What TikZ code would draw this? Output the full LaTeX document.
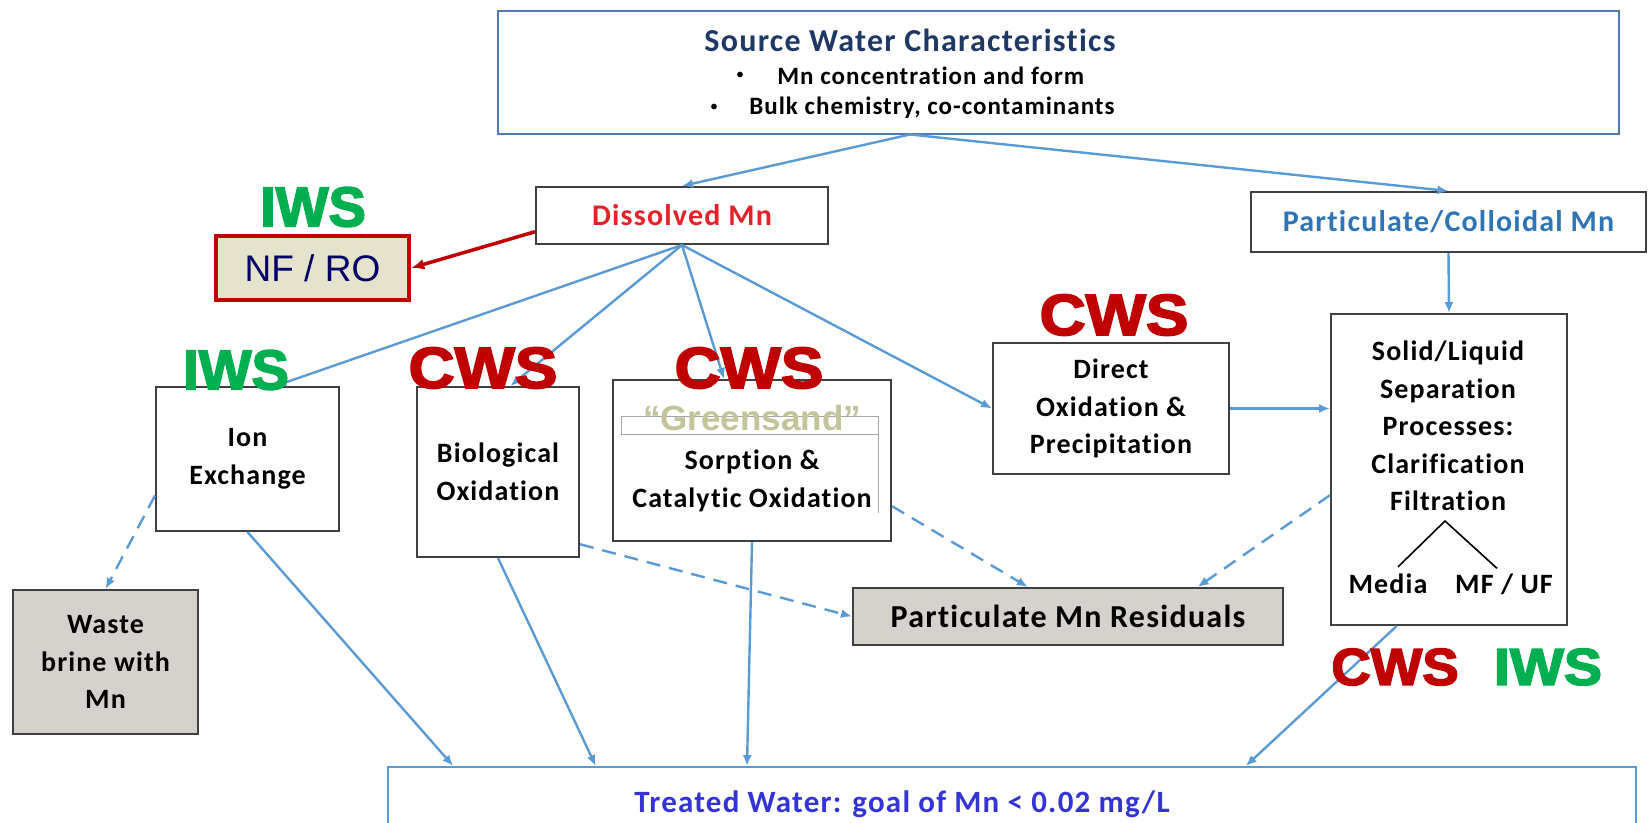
\documentclass[tikz,border=0pt]{standalone}
\usepackage{fontspec}
\setmainfont{Carlito}[LetterSpace=4, Ligatures=NoCommon]
\newfontfamily\tagfont{Liberation Sans}[BoldFeatures={FakeBold=3}]
\newfontfamily\arialfont{Liberation Sans}
\usetikzlibrary{positioning,arrows.meta,calc}

\definecolor{flowblue}{HTML}{5B9BD5}
\definecolor{srcblue}{HTML}{5079B5}
\definecolor{boxgray}{HTML}{404040}
\definecolor{titlenavy}{HTML}{1F3864}
\definecolor{dissred}{HTML}{E8202A}
\definecolor{partblue}{HTML}{2E75B6}
\definecolor{treatblue}{HTML}{3434D6}
\definecolor{cwsred}{HTML}{C00000}
\definecolor{iwsgreen}{HTML}{00B050}
\definecolor{sandkhaki}{HTML}{C4C49A}
\definecolor{nfrofill}{HTML}{E5E3CB}
\definecolor{nfronavy}{HTML}{000066}
\definecolor{residgray}{HTML}{D5D1CC}

\newcommand\bodyfont{\fontsize{28}{37.5}\selectfont\bfseries}
\newcommand\titlefont{\fontsize{32}{36}\selectfont\bfseries}

\begin{document}
\begin{tikzpicture}[x=1pt,y=-1pt,
  procbox/.style={draw=boxgray, line width=2pt, fill=white, inner sep=0pt, align=center, font=\bodyfont},
  residbox/.style={procbox, fill=residgray},
  bluebox/.style={draw=srcblue, line width=2pt, fill=white, inner sep=0pt},
  bodytext/.style={font=\bodyfont, align=center, inner sep=0pt},
  cwstag/.style={font=\tagfont\bfseries\fontsize{58}{58}\selectfont, text=cwsred, inner sep=0pt},
  iwstag/.style={cwstag, font=\tagfont\bfseries\fontsize{56}{56}\selectfont, text=iwsgreen},
  smalltag/.style={font=\tagfont\bfseries\fontsize{52}{52}\selectfont},
  flow/.style={draw=flowblue, line width=2.4pt, -{Latex[length=11pt,width=9pt]}},
  residflow/.style={flow, dash pattern=on 14pt off 9pt},
]
\useasboundingbox (0,0) rectangle (1648,822);
\clip (0,0) rectangle (1648,822);

% source water
\node (source) at (1058.5,72) [bluebox, minimum width=1121pt, minimum height=123pt] {};
\node (srctitle) at (910,40) [font=\titlefont, text=titlenavy, inner sep=0pt] {Source Water Characteristics};
\node (bul1) at (740,76) [bodytext, font=\fontsize{16}{16}\selectfont] {\textbullet};
\node (chr1) [bodytext, font=\fontsize{25}{30}\selectfont\bfseries, right=33pt of bul1] {Mn concentration and form};
\node (bul2) at (714,108) [bodytext, font=\fontsize{16}{16}\selectfont] {\textbullet};
\node (chr2) [bodytext, font=\fontsize{25}{30}\selectfont\bfseries, right=31pt of bul2] {Bulk chemistry, co-contaminants};

% forms of Mn
\node (dissolved) at (682,215.5) [procbox, minimum width=292pt, minimum height=57pt, text=dissred, font=\fontsize{30}{36}\selectfont\bfseries] {Dissolved Mn};
\node (partcol) at (1448.5,222) [procbox, minimum width=395pt, minimum height=60pt, text=partblue, font=\fontsize{30}{36}\selectfont\bfseries] {Particulate/Colloidal Mn};
\node (nfro) at (312.5,268) [draw=cwsred, line width=4.5pt, fill=nfrofill, minimum width=193pt, minimum height=64pt,
  font=\arialfont\fontsize{37}{37}\selectfont, text=nfronavy] {NF / RO};

% treatment processes
\node (ionex) at (247.5,459) [procbox, minimum width=183pt, minimum height=144pt] {Ion\\Exchange};
\node (bioox) at (498,472) [procbox, minimum width=162pt, minimum height=170pt] {Biological\\Oxidation};
\node (sorption) at (752,460.5) [procbox, minimum width=278pt, minimum height=161pt] {};
\draw [gray!70, line width=0.8pt] (621,416) rectangle (878,434) (878,434) -- (878,513);
\node (greensand) at (752,418) [font=\arialfont\bfseries\fontsize{35}{35}\selectfont, text=sandkhaki, inner sep=0pt] {“Greensand”};
\node (sorptxt) at (752,481) [bodytext] {Sorption \&\\Catalytic Oxidation};
\node (direct) at (1111,408.5) [procbox, minimum width=236pt, minimum height=131pt] {Direct\\Oxidation \&\\Precipitation};
\node (solid) at (1449,469.5) [procbox, minimum width=236pt, minimum height=311pt] {};
\node (solidtxt) at (1448,426) [bodytext] {Solid/Liquid\\Separation\\Processes:\\Clarification\\Filtration};
\node (media) at (1388,584) [bodytext] {Media};
\node (mfuf) at (1504,584) [bodytext] {MF / UF};
\coordinate (fork) at (1445,521);
\draw [black, line width=1.6pt] (media.north) ++(10,-7) -- (fork) -- ($(mfuf.north)+(-7,-5)$);

% outputs
\node (waste) at (105.5,662) [residbox, minimum width=185pt, minimum height=144pt] {Waste\\brine with\\Mn};
\node (resid) at (1068,616.5) [residbox, minimum width=430pt, minimum height=57pt, font=\fontsize{32}{36}\selectfont\bfseries] {Particulate Mn Residuals};
\node (treated) at (1012,822) [draw=flowblue, line width=2pt, minimum width=1248pt, minimum height=110pt] {};
\node (treattxt) at (902,804) [bodytext, font=\fontsize{31}{36}\selectfont\bfseries, text=treatblue] {Treated Water: goal of Mn < 0.02 mg/L};

% arrows
\draw [flow] (srctitle |- source.south) -- (dissolved.north);
\draw [flow] (srctitle |- source.south) -- (partcol.north);
\draw [flow] (partcol.south) -- (solid.north);
\draw [draw=cwsred, line width=3.5pt, -{Latex[length=13pt,width=11pt]}] ($(dissolved.west)!0.55!(dissolved.south west)$) -- (nfro.east);
\draw [flow] (dissolved.south) -- ($(ionex.north)!0.3!(ionex.north east)$);
\draw [flow] (dissolved.south) -- ($(bioox.north)!0.15!(bioox.north east)$);
\draw [flow] (dissolved.south) -- ($(sorption.north)!0.2!(sorption.north west)$);
\draw [flow] (dissolved.south) -- (direct.west);
\draw [flow] (direct.east) -- (direct.east -| solid.west);
\draw [flow] (ionex.south) -- ($(treated.north west)!0.053!(treated.north east)$);
\draw [flow] (bioox.south) -- ($(treated.north west)!0.167!(treated.north east)$);
\draw [flow] (sorption.south) -- ($(treated.north west)!0.288!(treated.north east)$);
\draw [flow] ($(solid.south west)!0.28!(solid.south east)$) -- ($(treated.north west)!0.687!(treated.north east)$);
\draw [residflow] ($(ionex.south west)!0.25!(ionex.north west)$) -- (waste.north);
\draw [residflow] ($(bioox.south east)!0.08!(bioox.north east)$) -- (resid.west);
\draw [residflow] ($(sorption.south east)!0.22!(sorption.north east)$) -- ($(resid.north west)!0.407!(resid.north east)$);
\draw [residflow] ($(solid.south west)!0.418!(solid.north west)$) -- ($(resid.north west)!0.8!(resid.north east)$);

% water system tags
\node (iwsnf) at (313,207) [iwstag] {IWS};
\node (iwsion) at (236,370) [iwstag] {IWS};
\node (cwsbio) at (483,368) [cwstag] {\scalebox{1.1}[1]{CWS}};
\node (cwssand) at (749,368) [cwstag] {\scalebox{1.1}[1]{CWS}};
\node (cwsdir) at (1114,315) [cwstag] {\scalebox{1.1}[1]{CWS}};
\node (cwssep) at (1395,667) [cwstag, smalltag] {\scalebox{1.05}[1]{CWS}};
\node (iwssep) at (1548,667) [iwstag, smalltag] {\scalebox{1.1}[1]{IWS}};
\end{tikzpicture}
\end{document}
